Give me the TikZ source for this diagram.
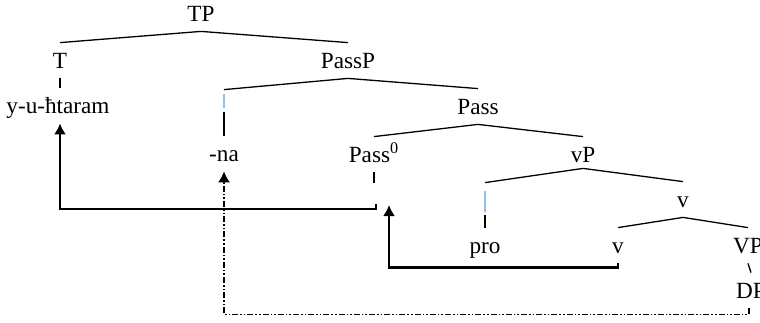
\documentclass[tikz,border=0pt]{standalone}
\usepackage{fontspec}
\setmainfont{Liberation Serif}
\usetikzlibrary{arrows.meta}
\begin{document}
\begin{tikzpicture}[x=0.5pt,y=-0.5pt,
  cat/.style={anchor=base,inner sep=0pt,text height=12.5pt,text depth=5pt,
    font=\fontsize{11.6}{13}\selectfont},
  branch/.style={line width=0.65pt},
  gapbar/.style={fill={rgb,255:red,150;green,190;blue,235},draw=none,
    inner sep=0pt,minimum width=1.2pt},
  move/.style={line width=1.1pt,-{Latex[length=5.5pt,width=6pt]}},
  trace/.style={line width=0.8pt,
    dash pattern=on 3pt off 1pt on 0.8pt off 1pt on 0.8pt off 1pt,
    -{Latex[length=5.5pt,width=6pt]}}]
\useasboundingbox (0,0) rectangle (760,322);

% categories and words
\node[cat] (TP)    at (201,21)  {TP};
\node[cat] (T)     at (60,68)   {T};
\node[cat] (PassP) at (348,68)  {PassP};
\node[cat] (yu)    at (58,113)  {y-u-ħtaram};
\node[gapbar,minimum height=7pt,outer ysep=2.2pt] (eA) at (224,101) {};
\node[cat] (Pass)  at (478,114) {Pass};
\node[cat] (na)    at (224,161) {-na};
\node[cat] (Pass0) at (374,162) {Pass\textsuperscript{0}};
\node[cat] (vP)    at (583,162) {vP};
\node[gapbar,minimum height=10.5pt] (eB) at (485,201.5) {};
\node[cat] (v1)    at (683,207) {v};
\node[cat] (pro)   at (485,253) {pro};
\node[cat] (v2)    at (618,253) {v};
\node[cat] (VP)    at (748,253) {VP};
\node[cat] (DP)    at (751,298) {DP};

% loose ends of the movement lines
\coordinate (p0stem)  at (374,183);
\coordinate (a1start) at (376,204);
\coordinate (a2end)   at (389,205);

% tree branches
\draw[branch] (TP.south) -- (T.north);
\draw[branch] (TP.south) -- (PassP.north);
\draw[branch] (T.south) -- (T.south |- yu.north);
\draw[branch] (PassP.south) -- (eA.north);
\draw[branch] (PassP.south) -- (Pass.north);
\draw[branch] (eA.south) -- (na.north);
\draw[branch] (Pass.south) -- (Pass0.north);
\draw[branch] (Pass.south) -- (vP.north);
\draw[branch] (Pass0.south) -- (p0stem);
\draw[branch] ([yshift=2pt]vP.south) -- ([yshift=4pt]eB.north);
\draw[branch] ([yshift=2pt]vP.south) -- (v1.north);
\draw[branch] ([yshift=-1.5pt]eB.south) -- (pro.north);
\draw[branch] (v1.south) -- (v2.north);
\draw[branch] (v1.south) -- (VP.north);
\draw[branch] (VP.south) -- (DP.north);

% movement
\draw[move]  (a1start) -- ++(0,5) -| ([xshift=1pt]yu.south);
\draw[move]  (v2.south) -- ++(0,4) -| (a2end);
\draw[trace] ([xshift=-1pt]DP.south) -- ++(0,6) -| (na.south);
\end{tikzpicture}
\end{document}
